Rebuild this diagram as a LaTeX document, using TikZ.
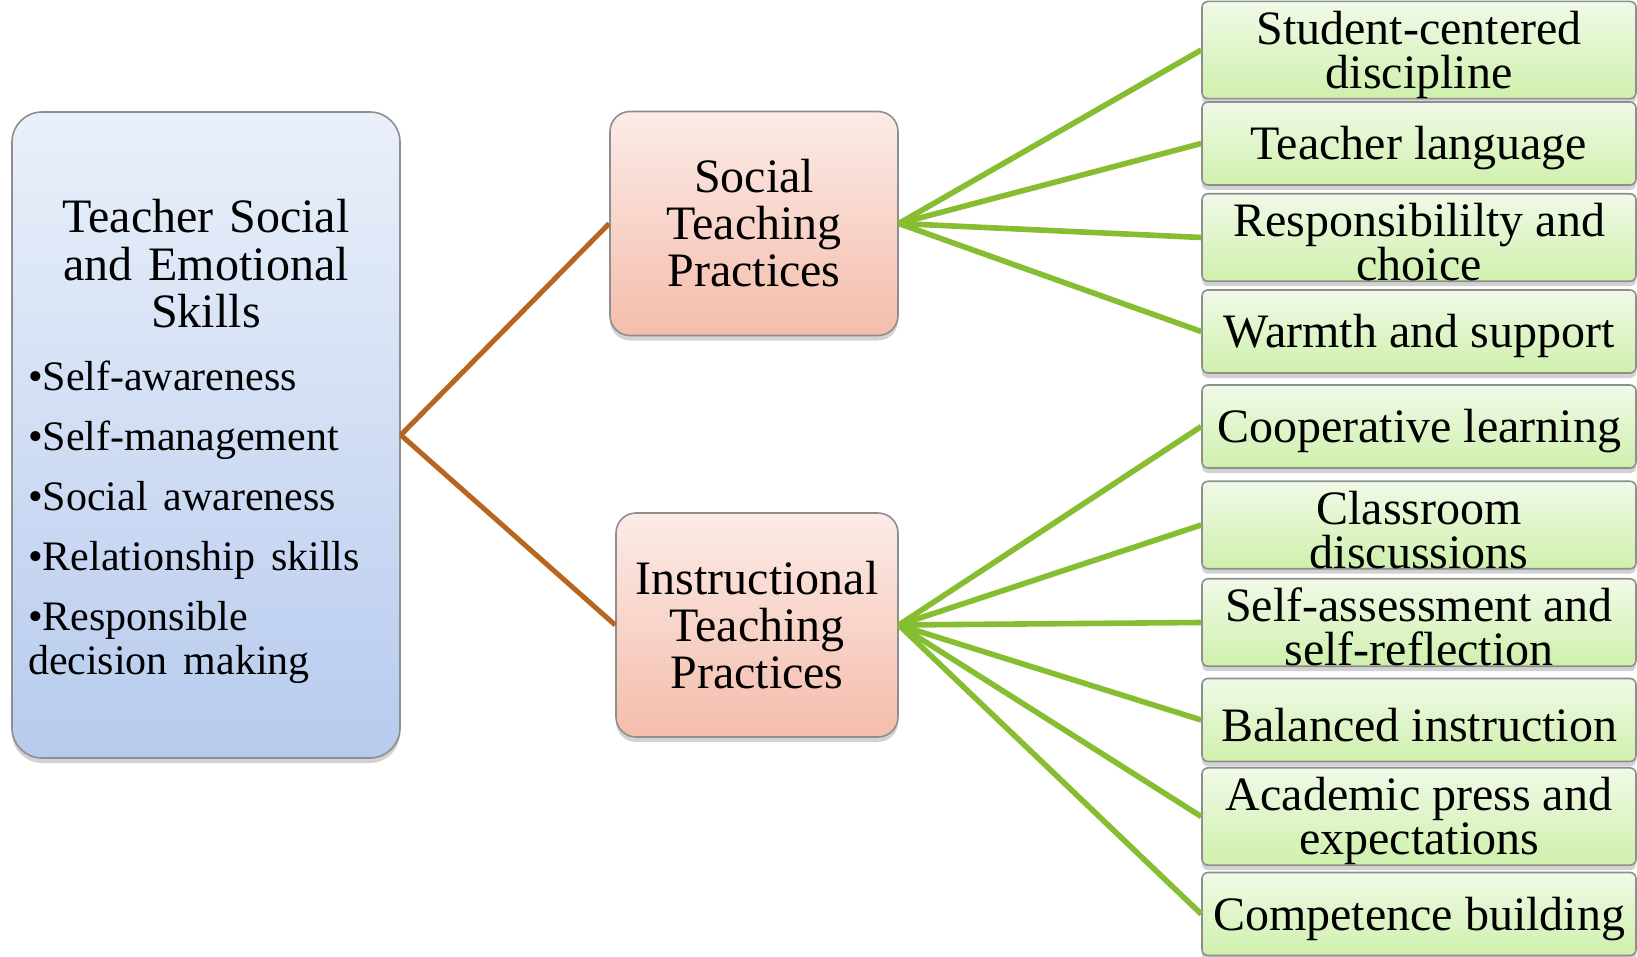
\documentclass[tikz,border=0pt]{standalone}
\usepackage{fontspec}
\setmainfont{Liberation Serif}
\usetikzlibrary{shadows}
\definecolor{bluetop}{HTML}{EAF0FA}
\definecolor{bluebot}{HTML}{B7CBEE}
\definecolor{pinktop}{HTML}{FCEBE7}
\definecolor{pinkbot}{HTML}{F4BDAC}
\definecolor{greentop}{HTML}{F0FAE8}
\definecolor{greenbot}{HTML}{CFF0AC}
\definecolor{boxline}{HTML}{8E8E8E}
\definecolor{brownc}{HTML}{B8661F}
\definecolor{greenc}{HTML}{87BD31}
\newcommand{\topstrut}[1]{\rule{0pt}{#1}}
\tikzset{
  basebox/.style={draw=boxline, line width=0.8pt, align=center, inner sep=0pt,
    font=\fontsize{24}{22}\selectfont,
    drop shadow={shadow xshift=0pt, shadow yshift=-2.5pt, opacity=0.35}},
  skillbox/.style={basebox, rounded corners=15pt, top color=bluetop, bottom color=bluebot,
    minimum width=194pt, minimum height=323pt, text width=178pt},
  practice/.style={basebox, rounded corners=10pt, top color=pinktop, bottom color=pinkbot,
    minimum height=112pt, font=\fontsize{24}{23.5}\selectfont},
  leafbox/.style={basebox, rounded corners=3pt, top color=greentop, bottom color=greenbot,
    minimum width=217pt, minimum height=41.5pt},
  trunk/.style={draw=brownc, line width=2.5pt},
  branch/.style={draw=greenc, line width=2.8pt}
}
\begin{document}
\begin{tikzpicture}[x=0.5pt, y=-0.5pt]
  \path [use as bounding box, fill=white] (0,0) rectangle (1637,957);

  \node [skillbox] (v1) at (206,435) {{\centering\fontsize{24}{23.75}\selectfont
    \topstrut{23.5pt}Teacher Social\\and Emotional\\Skills\par}
    \raggedright\fontsize{21}{22}\selectfont\vspace{9.5pt}
    •Self-awareness\par\vspace{8pt}
    •Self-management\par\vspace{8pt}
    •Social awareness\par\vspace{8pt}
    •Relationship skills\par\vspace{8pt}
    •Responsible\\decision making\par};

  \node [practice, minimum width=144pt] (v2) at (754,223.5) {Social\\Teaching\\Practices};
  \node [practice, minimum width=141pt] (v3) at (757,625) {Instructional\\Teaching\\Practices};

  \node [leafbox] (v4) at (1419,50) {\topstrut{21.5pt}Student-centered\\discipline};
  \node [leafbox] (v5) at (1419,143.5) {\topstrut{21.5pt}Teacher language};
  \node [leafbox] (v6) at (1419,237.5) {\topstrut{21.5pt}Responsibililty and\\choice};
  \node [leafbox] (v7) at (1419,331.5) {\topstrut{21.5pt}Warmth and support};
  \node [leafbox] (v8) at (1419,426.5) {\topstrut{21.5pt}Cooperative learning};
  \node [leafbox] (v9) at (1419,525) {\topstrut{21.5pt}Classroom\\discussions};
  \node [leafbox] (v10) at (1419,622.5) {\topstrut{21.5pt}Self-assessment and\\self-reflection};
  \node [leafbox] (v11) at (1419,720) {\topstrut{21.5pt}Balanced instruction};
  \node [leafbox] (v12) at (1419,816.5) {\topstrut{21.5pt}Academic press and\\expectations};
  \node [leafbox] (v13) at (1419,914) {\topstrut{21.5pt}Competence building};

  \draw [trunk] (v1.east) edge (v2.west) (v1.east) edge (v3.west);

  \draw [branch] (v2.east) edge (v4.west) (v2.east) edge (v5.west);
  \draw [branch] (v2.east) edge (v6.west) (v2.east) edge (v7.west);
  \draw [branch] (v3.east) edge (v8.west) (v3.east) edge (v9.west);
  \draw [branch] (v3.east) edge (v10.west) (v3.east) edge (v11.west);
  \draw [branch] (v3.east) edge (v12.west) (v3.east) edge (v13.west);
\end{tikzpicture}
\end{document}
